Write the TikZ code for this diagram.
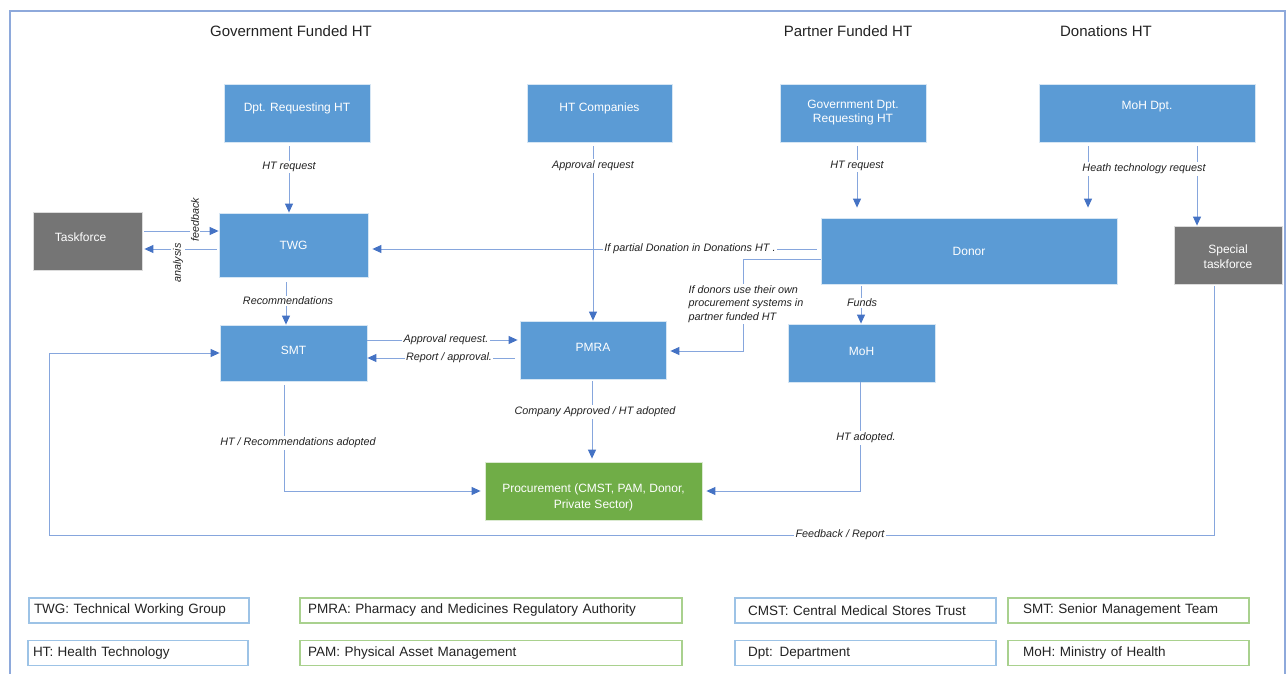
\documentclass[tikz,border=0pt]{standalone}
\usepackage{fontspec}
\setmainfont{Liberation Sans}
\usetikzlibrary{arrows.meta,calc}
\definecolor{boxblue}{HTML}{5B9BD5}
\definecolor{boxgray}{HTML}{757575}
\definecolor{boxgreen}{HTML}{70AD47}
\definecolor{linec}{HTML}{86A6DD}
\definecolor{tipc}{HTML}{4472C4}
\definecolor{framec}{HTML}{8EA9DB}
\definecolor{legblue}{HTML}{9DC3E6}
\definecolor{leggreen}{HTML}{A9D18E}
\definecolor{txt}{HTML}{222222}
\newcommand\liftt[2]{\raisebox{#1}[\height][\depth]{#2}}
\begin{document}
\begin{tikzpicture}[x=1pt,y=-1pt,
  box/.style={draw=white!75!#1, line width=0.8pt, fill=#1, text=white, inner sep=0pt,
    font=\fontsize{12}{15}\selectfont, align=center},
  bsz/.style 2 args={minimum width=#1pt, minimum height=#2pt},
  conn/.style={draw=linec, line width=1pt, -{Triangle[length=9pt,width=8pt,color=tipc]}},
  lbl/.style={font=\itshape\fontsize{10.8}{13.5}\selectfont, text=txt, fill=white, inner sep=1.5pt},
  hdr/.style={font=\fontsize{15}{18}\selectfont, text=txt},
  legb/.style={draw=#1, line width=1.2pt, minimum height=25pt, inner xsep=0pt, inner ysep=0pt,
    align=left, font=\fontsize{13.5}{16}\selectfont, text=txt}
]
\useasboundingbox (0,0) rectangle (1287,674);
% frame
\draw[framec, line width=1.3pt] (10,674) -- (10,11) -- (1285,11) -- (1285,674);

% headers
\node[hdr] (h1) at (291,31) {Government Funded HT};
\node[hdr] (h2) at (848,31) {Partner Funded HT};
\node[hdr] (h3) at (1106,31) {Donations HT};

% boxes
\node[box=boxblue, bsz={146}{58}] (dpt) at (297,113) {\liftt{5pt}{Dpt. Requesting HT}};
\node[box=boxblue, bsz={145}{58}] (htc) at (599.5,113) {\liftt{5pt}{HT Companies}};
\node[box=boxblue, bsz={146}{58}, font=\fontsize{12}{14}\selectfont] (gov) at (853,113) {Government Dpt.\\Requesting HT};
\node[box=boxblue, bsz={216}{58}] (mohd) at (1147,113) {\liftt{6pt}{MoH Dpt.}};
\node[box=boxgray, bsz={109}{58}] (tf) at (87.5,241) {\liftt{4pt}{Taskforce\hspace{14pt}}};
\node[box=boxblue, bsz={149}{64}] (twg) at (293.5,245) {TWG};
\node[box=boxblue, bsz={296}{66}] (donor) at (969,251) {Donor};
\node[box=boxgray, bsz={108}{58}] (stf) at (1228,255) {\liftt{-3pt}{\begin{tabular}{@{}c@{}}Special\\taskforce\end{tabular}}};
\node[box=boxblue, bsz={147}{56}] (smt) at (293.5,353) {\liftt{3pt}{SMT}};
\node[box=boxblue, bsz={146}{58}] (pmra) at (593,350) {\liftt{3pt}{PMRA}};
\node[box=boxblue, bsz={147}{58}] (moh) at (861.5,353) {\liftt{2pt}{MoH}};
\node[box=boxgreen, bsz={217}{58}, font=\fontsize{12}{16}\selectfont] (proc) at (593.5,491) {\liftt{-6pt}{\begin{tabular}{@{}c@{}}Procurement (CMST, PAM, Donor,\\Private Sector)\end{tabular}}};

% corner coordinates
\coordinate (fbc) at (49,535);
\coordinate (dpc) at (743,351);

% connectors
\draw[conn, shorten <=4pt] (dpt.south -| 289,0) -- (twg.north -| 289,0);
\draw[conn, shorten <=4pt] (htc.south -| pmra.north) -- (pmra.north);
\draw[conn, shorten <=4pt, shorten >=10pt] (gov.south -| 857,0) -- (donor.north -| 857,0);
\draw[conn, shorten <=4pt, shorten >=10pt] (mohd.south -| 1088,0) -- (donor.north -| 1088,0);
\draw[conn, shorten <=4pt] (mohd.south -| 1197,0) -- (stf.north -| 1197,0);
\draw[conn, shorten <=2pt] (tf.east |- 0,231) -- (twg.west |- 0,231);
\draw[conn, shorten <=2pt, shorten >=2pt] (twg.west |- 0,249) -- (tf.east |- 0,249);
\draw[conn, shorten <=5pt] (twg.south -| 286,0) -- (smt.north -| 286,0);
\draw[conn, shorten <=4pt, shorten >=4pt] (donor.west |- 0,249) -- (twg.east |- 0,249);
\draw[conn, shorten >=4pt] (donor.west |- 0,259) -| (dpc) -- (pmra.east |- dpc);
\draw[conn, shorten <=2pt] (donor.south -| 861,0) -- (moh.north -| 861,0);
\draw[conn, shorten >=2pt] (smt.east |- 0,340) -- (pmra.west |- 0,340);
\draw[conn, shorten <=5pt] (pmra.west |- 0,358) -- (smt.east |- 0,358);
\draw[conn, shorten <=2pt, shorten >=3pt] (pmra.south -| 592,0) -- (proc.north -| 592,0);
\draw[conn, shorten <=4pt, shorten >=4pt] (smt.south -| 284,0) |- (proc.west);
\draw[conn, shorten >=4pt] (moh.south -| 860,0) |- (proc.east);
\draw[conn, shorten <=2pt] (stf.south -| 1214,0) |- (fbc) |- (smt.west);

% labels
\node[lbl] (l1) at (289,167) {HT request};
\node[lbl] (l2) at (593,166) {Approval request};
\node[lbl] (l3) at (857,166) {HT request};
\node[lbl] (l4) at (1144,169) {Heath technology request};
\node[lbl, rotate=90] (l5) at (195,220) {feedback};
\node[lbl, rotate=90] (l6) at (178,263) {analysis};
\node[lbl] (l7) at (288,301) {Recommendations};
\node[lbl] (l8) at (690,249) {If partial Donation in Donations HT .};
\node[lbl, align=left] (l9) at (746,304) {If donors use their own\\procurement systems in\\partner funded HT};
\node[lbl] (l10) at (862,303) {Funds};
\node[lbl] (l11) at (446,340) {Approval request.};
\node[lbl] (l12) at (449,358) {Report / approval.};
\node[lbl] (l13) at (595,412) {Company Approved / HT adopted};
\node[lbl] (l14) at (298,443) {HT / Recommendations adopted};
\node[lbl] (l15) at (866,438) {HT adopted.};
\node[lbl] (l16) at (840,535) {Feedback / Report};

% legend
\node[legb=legblue, minimum width=220pt, text width=210pt] (g1) at (139,610.5) {TWG: Technical Working Group};
\node[legb=leggreen, minimum width=382pt, text width=366pt] (g2) at (491,610.5) {PMRA: Pharmacy and Medicines Regulatory Authority};
\node[legb=legblue, minimum width=261pt, text width=235pt] (g3) at (865.5,610.5) {CMST: Central Medical Stores Trust};
\node[legb=leggreen, minimum width=241pt, text width=211pt] (g4) at (1128.5,610.5) {SMT: Senior Management Team};
\node[legb=legblue, minimum width=220pt, text width=210pt] (g5) at (138,653) {HT: Health Technology};
\node[legb=leggreen, minimum width=382pt, text width=366pt] (g6) at (491,653) {PAM: Physical Asset Management};
\node[legb=legblue, minimum width=261pt, text width=235pt] (g7) at (865.5,653) {Dpt: Department};
\node[legb=leggreen, minimum width=241pt, text width=211pt] (g8) at (1128.5,653) {MoH: Ministry of Health};
\end{tikzpicture}
\end{document}
